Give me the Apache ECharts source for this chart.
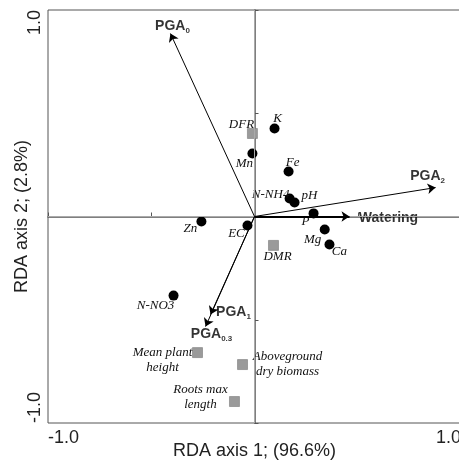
<!DOCTYPE html>
<html>
<head>
<meta charset="utf-8">
<script src="https://cdn.jsdelivr.net/npm/echarts@6/dist/echarts.min.js"></script>
<style>
  html, body { margin: 0; padding: 0; background: #fff; }
  #main { width: 459px; height: 463px; }
</style>
</head>
<body>
<div id="main"></div>
<script>
// soil variables (black dots)
var soilNames = ['K', 'Mn', 'Fe', 'N-NH4', 'pH', 'P', 'Mg', 'Ca', 'Zn', 'EC', 'N-NO3'];
var soilX = [0.097, -0.010, 0.165, 0.170, 0.194, 0.286, 0.340, 0.363, -0.257, -0.034, -0.392];
var soilY = [0.426, 0.305, 0.218, 0.087, 0.068, 0.015, -0.063, -0.136, -0.024, -0.044, -0.383];

// plant responses (grey squares)
var plantNames = ['DFR', 'DMR', 'Mean plant\nheight', 'Aboveground\ndry biomass', 'Roots max\nlength'];
var plantX = [-0.010, 0.092, -0.276, -0.058, -0.097];
var plantY = [0.402, -0.140, -0.659, -0.717, -0.896];

// explanatory arrows
var arrowMain = ['PGA', 'PGA', 'Watering', 'PGA', 'PGA'];
var arrowSub = ['0', '2', '', '1', '0.3'];
var arrowX = [-0.407, 0.877, 0.460, -0.213, -0.237];
var arrowY = [0.886, 0.140, 0.000, -0.475, -0.533];

var tickLabels = [-1.0, 1.0];

// label offsets (px, from the point)
var soilOffset = [[3, -10], [-8, 10], [4, -9], [-19, -4], [15, -7], [-8, 8], [-12, 10], [10, 7], [-11, 7], [-11, 8], [-18, 10]];
var plantOffset = [[-11, -9], [4, 11], [-35, 7], [45, 0], [-34, -4]];
var arrowOffset = [[2, -7], [-8, -11], [39, 2], [23, -2], [6, 8]];

var dom = document.getElementById('main');
var myChart = echarts.init(dom);

function tickFmt(v) {
  for (var i = 0; i < tickLabels.length; i++) {
    if (Math.abs(v - tickLabels[i]) < 1e-9) return tickLabels[i].toFixed(1);
  }
  return '';
}

var soilData = soilNames.map(function (n, i) {
  return { name: n, value: [soilX[i], soilY[i]], label: { offset: soilOffset[i] } };
});
var plantData = plantNames.map(function (n, i) {
  return { name: n, value: [plantX[i], plantY[i]], label: { offset: plantOffset[i] } };
});
var arrowData = arrowMain.map(function (n, i) {
  return { name: n, value: [arrowX[i], arrowY[i]], label: { offset: arrowOffset[i] } };
});
var arrowLines = arrowMain.map(function (n, i) {
  var w = n === 'Watering' ? 2 : 1;
  return [
    { coord: [0, 0], lineStyle: { width: w } },
    { coord: [arrowX[i], arrowY[i]], lineStyle: { width: w } }
  ];
});

option = {
  backgroundColor: '#fff',
  animation: false,
  grid: {
    left: 48, top: 10, width: 413, height: 413,
    outerBoundsMode: 'none', containLabel: false,
    show: true, borderColor: '#555', borderWidth: 1
  },
  xAxis: {
    type: 'value', min: -1, max: 1, interval: 0.5,
    name: 'RDA axis 1; (96.6%)',
    nameLocation: 'middle', nameGap: 19, nameMoveOverlap: false,
    nameTextStyle: { fontFamily: 'Liberation Sans', fontSize: 18, color: '#222' },
    axisLine: { show: true, lineStyle: { color: '#555', width: 1.5 } },
    axisTick: { show: true, inside: true, length: 4, lineStyle: { color: '#555' } },
    axisLabel: {
      formatter: tickFmt, margin: 6,
      fontFamily: 'Liberation Sans', fontSize: 18, color: '#222',
      alignMinLabel: 'left', alignMaxLabel: 'right'
    },
    splitLine: { show: false }
  },
  yAxis: {
    type: 'value', min: -1, max: 1, interval: 0.5,
    name: 'RDA axis 2; (2.8%)',
    nameLocation: 'middle', nameGap: 17, nameMoveOverlap: false,
    nameTextStyle: { fontFamily: 'Liberation Sans', fontSize: 18, color: '#222' },
    axisLine: { show: true, lineStyle: { color: '#555', width: 1.5 } },
    axisTick: { show: true, inside: true, length: 4, lineStyle: { color: '#555' } },
    axisLabel: {
      formatter: tickFmt, margin: 4, rotate: 90,
      fontFamily: 'Liberation Sans', fontSize: 18, color: '#222',
      alignMinLabel: 'left', alignMaxLabel: 'right'
    },
    splitLine: { show: false }
  },
  series: [
    {
      name: 'soil',
      type: 'scatter',
      symbol: 'circle',
      symbolSize: 10,
      itemStyle: { color: '#000', opacity: 1 },
      label: { show: true, position: 'inside', formatter: '{b}', align: 'center', verticalAlign: 'middle',
        fontFamily: 'Liberation Serif', fontStyle: 'italic', fontSize: 13, color: '#111' },
      data: soilData,
      markLine: {
        silent: true, symbol: 'none', animation: false,
        lineStyle: { color: '#aaa', width: 1, type: 'solid' },
        label: { show: false },
        data: [{ xAxis: 0 }, { yAxis: 0 }]
      },
      z: 3
    },
    {
      name: 'plant',
      type: 'scatter',
      symbol: 'rect',
      symbolSize: 10,
      itemStyle: { color: '#9a9a9a', borderColor: '#7a7a7a', borderWidth: 0.6, opacity: 1 },
      label: { show: true, position: 'inside', formatter: '{b}', align: 'center', verticalAlign: 'middle',
        fontFamily: 'Liberation Serif', fontStyle: 'italic', fontSize: 13, color: '#111', lineHeight: 15 },
      data: plantData,
      z: 3
    },
    {
      name: 'arrows',
      type: 'scatter',
      symbolSize: 1,
      itemStyle: { color: 'rgba(0,0,0,0)' },
      label: {
        show: true, position: 'inside', align: 'center', verticalAlign: 'middle',
        formatter: function (p) {
          var s = arrowSub[p.dataIndex];
          return '{b|' + p.name + '}' + (s ? '{s|' + s + '}' : '');
        },
        rich: {
          b: { fontFamily: 'Liberation Sans', fontWeight: 'bold', fontSize: 14, color: '#000', lineHeight: 16 },
          s: { fontFamily: 'Liberation Sans', fontWeight: 'bold', fontSize: 8, color: '#000', verticalAlign: 'bottom', lineHeight: 12 }
        }
      },
      data: arrowData,
      markLine: {
        silent: true, animation: false,
        symbol: ['none', 'arrow'], symbolSize: 8,
        lineStyle: { color: '#000', width: 1, type: 'solid' },
        label: { show: false },
        data: arrowLines
      },
      z: 4
    }
  ]
};

if (option && typeof option === 'object') {
  myChart.setOption(option, true);
}
</script>
</body>
</html>
